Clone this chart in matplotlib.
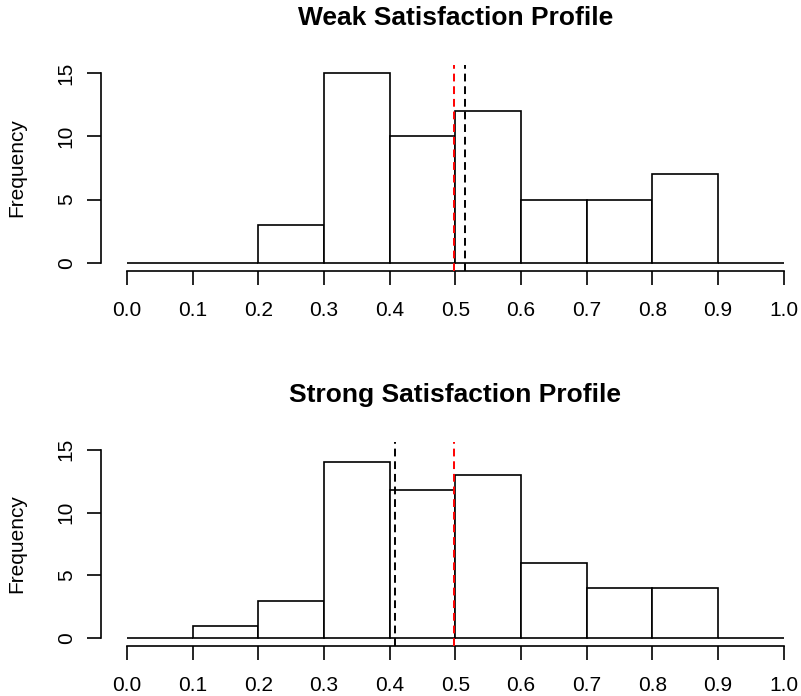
#!/usr/bin/env python3
"""Two stacked R-style histograms: weak vs strong satisfaction profile."""

import matplotlib
matplotlib.use("Agg")
import matplotlib.pyplot as plt
import numpy as np

plt.rcParams["font.family"] = ["Liberation Sans", "DejaVu Sans"]

BIN_EDGES = [0.0, 0.1, 0.2, 0.3, 0.4, 0.5, 0.6, 0.7, 0.8, 0.9, 1.0]
WEAK_COUNTS = [0, 0, 3, 15, 10, 12, 5, 5, 7, 0]
STRONG_COUNTS = [0, 1, 3, 14, 11.8, 13, 6, 4, 4, 0]

# vertical reference lines (black dashed, red dashed)
WEAK_BLACK = 0.515
WEAK_RED = 0.498
STRONG_BLACK = 0.408
STRONG_RED = 0.498

TITLES = ["Weak Satisfaction Profile", "Strong Satisfaction Profile"]
X_TICKS = [0.0, 0.1, 0.2, 0.3, 0.4, 0.5, 0.6, 0.7, 0.8, 0.9, 1.0]
Y_TICKS = [0, 5, 10, 15]

W, H = 801, 696
FS = 15


def r_hist(ax, counts, black_x, red_x, title):
    edges = np.array(BIN_EDGES)
    ax.bar(edges[:-1], counts, width=np.diff(edges), align="edge",
           facecolor="white", edgecolor="black", linewidth=1.2, zorder=2)
    ax.axvline(red_x, color="red", lw=1.4, ls=(0, (4, 2.5)), zorder=3)
    ax.axvline(black_x, color="black", lw=1.4, ls=(0, (4, 2.5)), zorder=3)

    ax.set_xlim(-0.04, 1.04)
    ax.set_ylim(-0.6, 15.6)
    for s in ("top", "right"):
        ax.spines[s].set_visible(False)
    ax.spines["left"].set_bounds(0, 15)
    ax.spines["bottom"].set_bounds(0, 1)
    for s in ("left", "bottom"):
        ax.spines[s].set_linewidth(1.2)

    ax.set_xticks(X_TICKS)
    ax.set_xticklabels([f"{t:.1f}" for t in X_TICKS])
    ax.set_yticks(Y_TICKS)
    ax.set_yticklabels([str(t) for t in Y_TICKS], rotation=90, va="center")
    ax.tick_params(axis="both", direction="out", length=10, width=1.2,
                   labelsize=FS)
    ax.tick_params(axis="x", pad=12)
    ax.tick_params(axis="y", pad=8)

    ax.set_ylabel("Frequency", fontsize=FS)
    ax.yaxis.set_label_coords(-0.105, 0.5)
    ax.set_title(title, fontsize=19, fontweight="bold", pad=29)


fig = plt.figure(figsize=(W / 100, H / 100), dpi=100)

left = 100.7 / W
width = 709.2 / W
ax_top = fig.add_axes([left, (H - 270.6) / H, width, 205.2 / H])
ax_bot = fig.add_axes([left, (H - 645.8) / H, width, 203.6 / H])

r_hist(ax_top, WEAK_COUNTS, WEAK_BLACK, WEAK_RED, TITLES[0])
r_hist(ax_bot, STRONG_COUNTS, STRONG_BLACK, STRONG_RED, TITLES[1])

fig.savefig("out.png", dpi=100)
